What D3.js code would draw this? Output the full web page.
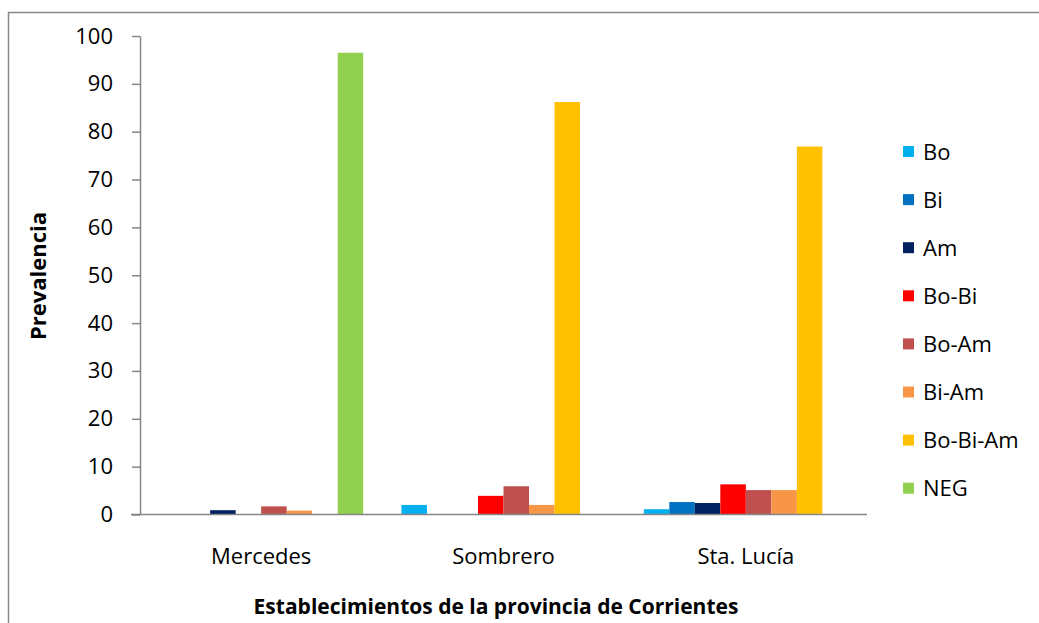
<!DOCTYPE html>
<html>
<head>
<meta charset="utf-8">
<script src="https://cdn.jsdelivr.net/npm/d3@7"></script>
<style>
  html, body { margin: 0; padding: 0; background: #fff; }
  svg { display: block; font-family: "Open Sans", Lato, "Liberation Sans", sans-serif; }
</style>
</head>
<body>
<svg id="chart" width="1039" height="623"></svg>
<script>
// Establishments (x categories)
const categories = ["Mercedes", "Sombrero", "Sta. Lucía"];
// Infection types (series)
const series = ["Bo", "Bi", "Am", "Bo-Bi", "Bo-Am", "Bi-Am", "Bo-Bi-Am", "NEG"];
const seriesColors = ["#00b0f0", "#0070c0", "#002060", "#ff0000", "#c0504d", "#f79646", "#ffc000", "#92d050"];
// Prevalence per series, one value for each establishment
const Bo       = [0,    2.0,  1.1];
const Bi       = [0,    0,    2.6];
const Am       = [0.9,  0,    2.4];
const BoBi     = [0,    3.9,  6.3];
const BoAm     = [1.7,  5.9,  5.1];
const BiAm     = [0.8,  2.0,  5.1];
const BoBiAm   = [0,    86.2, 76.9];
const NEG      = [96.5, 0,    0];
const yTicks = [0, 10, 20, 30, 40, 50, 60, 70, 80, 90, 100];

const values = [Bo, Bi, Am, BoBi, BoAm, BiAm, BoBiAm, NEG];
const FONT = "'Open Sans', Lato, sans-serif";

const svg = d3.select("#chart");

// outer chart frame
svg.append("rect")
  .attr("x", 8.5).attr("y", 12.5)
  .attr("width", 1100).attr("height", 700)
  .attr("fill", "none").attr("stroke", "#868686").attr("stroke-width", 1.5);

const plot = { left: 140, right: 867, top: 36, bottom: 514.5 };

const y = d3.scaleLinear().domain([0, 100]).range([plot.bottom, plot.top]);
const x0 = d3.scaleBand().domain(categories).range([plot.left, plot.right])
  .paddingInner(1.5 / 9.5).paddingOuter(0.75 / 9.5);
const x1 = d3.scaleBand().domain(series).range([0, x0.bandwidth()]);
const color = d3.scaleOrdinal().domain(series).range(seriesColors);

// bars
const groups = svg.append("g").selectAll("g")
  .data(categories)
  .join("g")
  .attr("transform", d => `translate(${x0(d)},0)`);

groups.selectAll("rect")
  .data((c, ci) => series.map((s, si) => ({ s, v: values[si][ci] })).filter(d => d.v > 0))
  .join("rect")
  .attr("x", d => x1(d.s))
  .attr("width", x1.bandwidth())
  .attr("y", d => y(d.v))
  .attr("height", d => plot.bottom - y(d.v))
  .attr("fill", d => color(d.s));

// y axis
const yAxis = svg.append("g")
  .attr("transform", `translate(${plot.left},0)`)
  .call(d3.axisLeft(y).tickValues(yTicks).tickSize(8).tickPadding(19).tickSizeOuter(0));
yAxis.select(".domain").attr("stroke", "#868686").attr("stroke-width", 1.5);
yAxis.selectAll(".tick line").attr("stroke", "#868686").attr("stroke-width", 1.5);
yAxis.selectAll(".tick text").attr("font-size", 22).attr("fill", "#000")
  .attr("font-family", FONT);

// x axis
const xAxis = svg.append("g")
  .attr("transform", `translate(0,${plot.bottom})`)
  .call(d3.axisBottom(x0).tickSize(0).tickPadding(34));
xAxis.select(".domain").remove();
svg.append("line")
  .attr("x1", plot.left - 9).attr("x2", plot.right)
  .attr("y1", plot.bottom).attr("y2", plot.bottom)
  .attr("stroke", "#868686").attr("stroke-width", 1.5);
xAxis.selectAll(".tick text").attr("font-size", 22).attr("fill", "#000")
  .attr("font-family", FONT);

// axis titles
svg.append("text")
  .attr("transform", "translate(46,276) rotate(-90)")
  .attr("text-anchor", "middle")
  .attr("font-size", 22).attr("font-weight", "bold")
  .text("Prevalencia");

svg.append("text")
  .attr("x", 496).attr("y", 614)
  .attr("text-anchor", "middle")
  .attr("font-size", 21).attr("font-weight", "bold")
  .text("Establecimientos de la provincia de Corrientes");

// legend
const legend = svg.append("g").selectAll("g")
  .data(series)
  .join("g")
  .attr("transform", (d, i) => `translate(903,${152 + i * 48.1})`);
legend.append("rect")
  .attr("x", 0).attr("y", -6).attr("width", 11).attr("height", 11)
  .attr("fill", d => color(d));
legend.append("text")
  .attr("x", 20).attr("y", 0).attr("dy", "0.35em")
  .attr("font-size", 22)
  .text(d => d);
</script>
</body>
</html>
